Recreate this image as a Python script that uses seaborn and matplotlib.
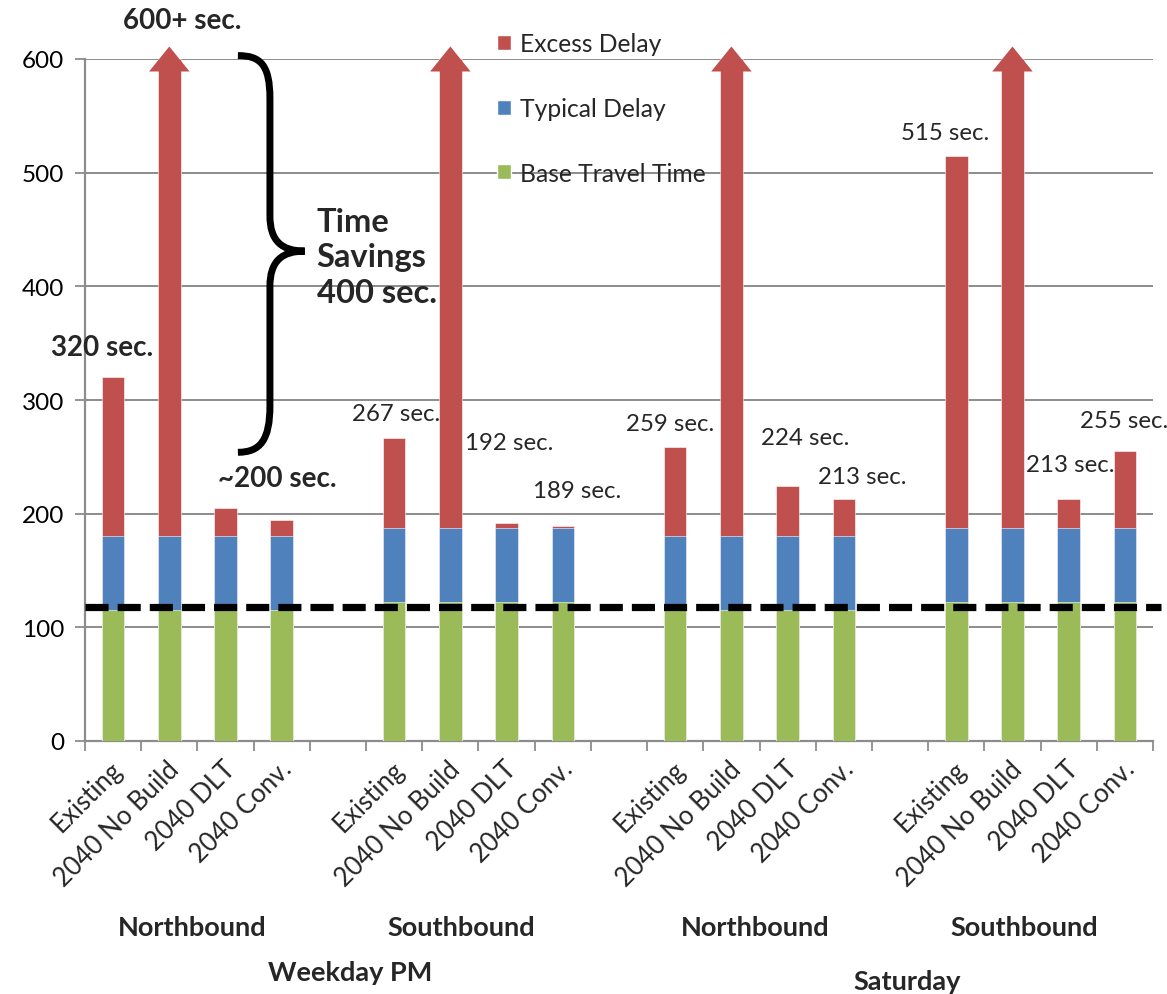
import numpy as np
import pandas as pd
import matplotlib
matplotlib.use("Agg")
import matplotlib.pyplot as plt
from matplotlib.path import Path
from matplotlib.patches import PathPatch, Polygon, Patch
import seaborn as sns

# ---- data -------------------------------------------------------------
scenarios = ["Existing", "2040 No Build", "2040 DLT", "2040 Conv."]
directions = ["Northbound", "Southbound", "Northbound", "Southbound"]
periods = ["Weekday PM", "Saturday"]

base_time = [115, 115, 115, 115, 122, 122, 122, 122,
             115, 115, 115, 115, 122, 122, 122, 122]
typical_delay = [65, 65, 65, 65, 65, 65, 65, 65,
                 65, 65, 65, 65, 65, 65, 65, 65]
total_time = [320, 600, 205, 194, 267, 600, 192, 189,
              259, 600, 224, 213, 515, 600, 213, 255]
capped = [False, True, False, False, False, True, False, False,
          False, True, False, False, False, True, False, False]
base_reference = 118

value_labels = ["320 sec.", "600+ sec.", "~200 sec.", None,
                "267 sec.", None, "192 sec.", "189 sec.",
                "259 sec.", None, "224 sec.", "213 sec.",
                "515 sec.", None, "213 sec.", "255 sec."]
bold_labels = [True, True, True, False] + [False] * 12

# ---- layout of slots (one empty slot between direction groups) --------
slots = []
for g in range(4):
    for s in range(4):
        slots.append(g * 5 + s)
n_slots = 19

df = pd.DataFrame({
    "slot": slots,
    "scenario": scenarios * 4,
    "base": base_time,
    "typical": typical_delay,
    "total": total_time,
})
df["base_typ"] = df["base"] + df["typical"]

RED = "#C0504D"
BLUE = "#4F81BD"
GREEN = "#9BBB59"
GRID = "#8C8C8C"

sns.set_theme(style="white")
plt.rcParams["font.family"] = ["Lato", "DejaVu Sans"]

fig = plt.figure(figsize=(11.67, 9.95), dpi=100)
ax = fig.add_axes([85 / 1167, 1 - 742 / 995, (1153 - 85) / 1167, (742 - 60) / 995])

order = list(range(n_slots))
bw = 0.4
common = dict(x="slot", order=order, width=bw, ax=ax, errorbar=None,
              edgecolor="white", linewidth=0.4, zorder=3)
sns.barplot(data=df, y="total", color=RED, saturation=1, **common)
sns.barplot(data=df, y="base_typ", color=BLUE, saturation=1, **common)
sns.barplot(data=df, y="base", color=GREEN, saturation=1, **common)

ax.set_xlim(-0.5, n_slots - 0.5)
ax.set_ylim(0, 600)
ax.set_yticks(range(0, 601, 100))
ax.tick_params(axis="y", labelsize=17.5, colors="black", length=7, width=1.3,
               direction="out", color=GRID, left=True, pad=8)
for lab in ax.get_yticklabels():
    lab.set_color("black")
ax.yaxis.grid(True, color=GRID, linewidth=1.4, zorder=0)
ax.set_axisbelow(True)
for side in ["top", "right"]:
    ax.spines[side].set_visible(False)
for side in ["left", "bottom"]:
    ax.spines[side].set_color(GRID)
    ax.spines[side].set_linewidth(1.6)
ax.set_xlabel("")
ax.set_ylabel("")

# slot boundary ticks on the category axis
ax.set_xticks(np.arange(-0.5, n_slots, 1.0))
ax.set_xticklabels([])
ax.tick_params(axis="x", bottom=True, length=7, width=1.3, color=GRID, direction="out")

# rotated scenario labels
for x, name in zip(df["slot"], df["scenario"]):
    ax.text(x + 0.10, -21, name, rotation=45, rotation_mode="anchor",
            ha="right", va="center", fontsize=18.5, clip_on=False)

# direction and period labels
dir_x = [1.40, 6.19, 11.42, 16.21]
for x, name in zip(dir_x, directions):
    ax.text(x, -164, name, ha="center", va="center", fontsize=19.5,
            fontweight="bold", clip_on=False)
ax.text(4.22, -203, periods[0], ha="center", va="center", fontsize=19.5,
        fontweight="bold", clip_on=False)
ax.text(14.13, -211, periods[1], ha="center", va="center", fontsize=19.5,
        fontweight="bold", clip_on=False)

# arrowheads on bars that run off the scale
for x, c in zip(df["slot"], capped):
    if c:
        head = Polygon([[x - 0.36, 589], [x + 0.36, 589], [x, 611]],
                       closed=True, facecolor=RED, edgecolor="none",
                       zorder=4, clip_on=False)
        ax.add_patch(head)

# base travel time reference line
ax.plot([-0.5, n_slots - 0.35], [base_reference, base_reference], color="black",
        linewidth=5.2, dashes=(3.2, 1.25), solid_capstyle="butt",
        dash_capstyle="butt", zorder=5, clip_on=False)

# value labels
label_pos = {
    0: (-0.20, 347), 1: (1.23, 634), 2: (2.92, 231),
    4: (5.03, 288), 6: (7.04, 263), 7: (8.25, 220),
    8: (9.91, 279), 10: (12.31, 267), 11: (13.33, 233),
    12: (14.80, 535), 14: (17.03, 243), 15: (17.99, 282),
}
for i, txt in enumerate(value_labels):
    if txt is None:
        continue
    x, y = label_pos[i]
    ax.text(x, y, txt, ha="center", va="center",
            fontsize=20 if bold_labels[i] else 17.3,
            fontweight="bold" if bold_labels[i] else "normal",
            zorder=6, clip_on=False)

# curly brace marking the time savings
verts = [
    (2.22, 603),
    (2.62, 603), (2.79, 595), (2.79, 565),
    (2.79, 462),
    (2.79, 440), (3.00, 431), (3.41, 431),
    (3.00, 431), (2.79, 422), (2.79, 400),
    (2.79, 295),
    (2.79, 265), (2.62, 254), (2.22, 254),
]
codes = ([Path.MOVETO] + [Path.CURVE4] * 3 + [Path.LINETO]
         + [Path.CURVE4] * 6 + [Path.LINETO] + [Path.CURVE4] * 3)
ax.add_patch(PathPatch(Path(verts, codes), facecolor="none", edgecolor="black",
                       linewidth=5, capstyle="butt", zorder=6, clip_on=False))
ax.text(3.62, 426, "Time\nSavings\n400 sec.", ha="left", va="center",
        fontsize=23.5, fontweight="bold", linespacing=1.27, zorder=6)

# legend
handles = [Patch(facecolor=RED), Patch(facecolor=BLUE), Patch(facecolor=GREEN)]
fig.legend(handles, ["Excess Delay", "Typical Delay", "Base Travel Time"],
           loc="upper left", bbox_to_anchor=(497 / 1167, 1 - 33 / 995),
           frameon=False, fontsize=17.7, labelspacing=1.7, handlelength=0.55,
           handleheight=0.55, handletextpad=0.4, borderpad=0, borderaxespad=0)

fig.savefig("out.png", dpi=100)
